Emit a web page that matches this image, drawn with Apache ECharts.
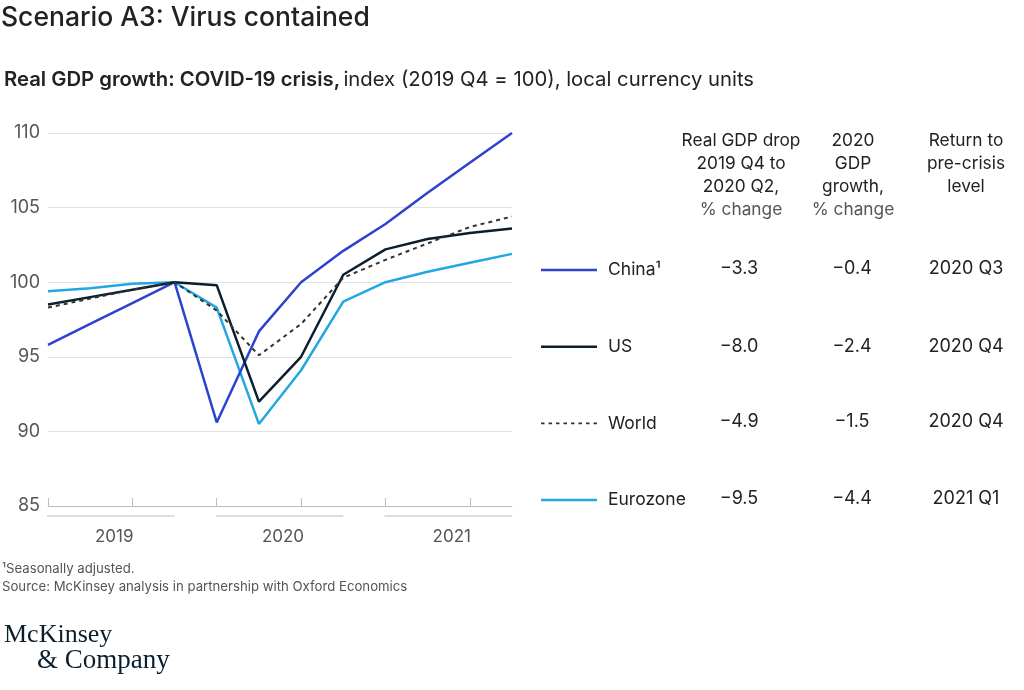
<!DOCTYPE html>
<html><head><meta charset="utf-8">
<script src="https://cdn.jsdelivr.net/npm/echarts@6/dist/echarts.min.js"></script>
<style>html,body{margin:0;padding:0;background:#fff}#c{width:1024px;height:690px}</style>
</head><body><div id="c"></div>
<script>
const quarters = ['2019 Q1','2019 Q2','2019 Q3','2019 Q4','2020 Q1','2020 Q2','2020 Q3','2020 Q4','2021 Q1','2021 Q2','2021 Q3','2021 Q4'];
const years = ['2019','2020','2021'];
const seriesNames = ['China','US','World','Eurozone'];
const legendLabels = ['China¹','US','World','Eurozone'];
const china    = [95.8, 97.2, 98.6, 100, 90.6, 96.7, 100.0, 102.1, 103.9, 106.0, 108.0, 110.0];
const us       = [98.5, 99.0, 99.5, 100, 99.8, 92.0, 95.0, 100.5, 102.2, 102.9, 103.3, 103.6];
const world    = [98.3, 98.9, 99.5, 100, 98.1, 95.1, 97.2, 100.3, 101.5, 102.6, 103.7, 104.4];
const eurozone = [99.4, 99.6, 99.9, 100, 98.3, 90.5, 94.1, 98.7, 100.0, 100.7, 101.3, 101.9];
const yTicks = [85, 90, 95, 100, 105, 110];
const header1 = ['Real GDP drop', '2019 Q4 to', '2020 Q2,', '% change'];
const header2 = ['2020', 'GDP', 'growth,', '% change'];
const header3 = ['Return to', 'pre-crisis', 'level'];
const gdpDrop = ['−3.3', '−8.0', '−4.9', '−9.5'];
const growth2020 = ['−0.4', '−2.4', '−1.5', '−4.4'];
const returnLevel = ['2020 Q3', '2020 Q4', '2020 Q4', '2021 Q1'];

const SANS = 'Inter, "Liberation Sans", sans-serif';
const DARK = '#222222';
const GREY = '#555555';
const colors = ['#2B43CF', '#0B1E2D', '#333333', '#22A7E2'];
const dataArr = [china, us, world, eurozone];

// legend icons: a solid stroke and a dashed stroke drawn as filled paths
const solidIcon = 'path://M0,0H56V2.5H0Z';
let dashPath = '';
for (let x = 0; x < 56; x += 7.5) dashPath += 'M' + x + ',0H' + (x + 3.5) + 'V1.6H' + x + 'Z';
const dashIcon = 'path://' + dashPath;

const chart = echarts.init(document.getElementById('c'), null, {renderer: 'canvas'});

function headerBlock(lines, cx, greyLast) {
  return lines.map((t, i) => ({
    type: 'text', x: cx, y: 141 + i * 23,
    style: {text: t, align: 'center', verticalAlign: 'middle',
      font: '400 17.3px ' + SANS, fill: (greyLast && i === lines.length - 1) ? GREY : DARK}
  }));
}

const rowY = [268, 346, 421, 498];
const tableTexts = [];
[[gdpDrop, 739], [growth2020, 852], [returnLevel, 966]].forEach(([arr, cx]) => {
  arr.forEach((t, i) => tableTexts.push({
    type: 'text', x: cx, y: rowY[i] + 1,
    style: {text: t, align: 'center', verticalAlign: 'middle', font: '400 18px ' + SANS, fill: DARK}
  }));
});

const staticGraphics = [
  {type: 'text', x: 1, y: 18, style: {text: 'Scenario A3: Virus contained', verticalAlign: 'middle', font: '500 26.5px ' + SANS, fill: DARK}},
  {type: 'text', x: 4, y: 80, style: {
    text: '{b|Real GDP growth: COVID-19 crisis,} {r|index (2019 Q4 = 100), local currency units}',
    verticalAlign: 'middle',
    rich: {b: {font: '600 20.3px ' + SANS, fill: DARK}, r: {font: '400 20.3px ' + SANS, fill: DARK}}
  }},
  ...headerBlock(header1, 741, true),
  ...headerBlock(header2, 853, true),
  ...headerBlock(header3, 966, false),
  ...tableTexts,
  {type: 'text', x: 2, y: 569, style: {text: '¹Seasonally adjusted.', verticalAlign: 'middle', font: '400 13.2px ' + SANS, fill: GREY}},
  {type: 'text', x: 2, y: 587, style: {text: 'Source: McKinsey analysis in partnership with Oxford Economics', verticalAlign: 'middle', font: '400 13.2px ' + SANS, fill: GREY}},
  {type: 'text', x: 4, y: 635, style: {text: 'McKinsey', verticalAlign: 'middle', font: '400 26px "Liberation Serif", serif', fill: '#0B1E2D'}},
  {type: 'text', x: 37, y: 661, style: {text: '& Company', verticalAlign: 'middle', font: '400 27px "Liberation Serif", serif', fill: '#0B1E2D'}}
];

const option = {
  animation: false,
  backgroundColor: '#fff',
  grid: {left: 48, top: 133, width: 464, height: 373, containLabel: false},
  xAxis: {
    type: 'category', data: quarters, boundaryGap: false,
    axisLine: {show: true, lineStyle: {color: '#BBBBBB', width: 1}},
    axisTick: {show: true, inside: true, length: 8, lineStyle: {color: '#BBBBBB'}},
    axisLabel: {show: false}, splitLine: {show: false}
  },
  yAxis: {
    type: 'value', min: 85, max: 110, interval: 5,
    axisLine: {show: false}, axisTick: {show: false},
    axisLabel: {color: GREY, fontSize: 18, fontFamily: SANS, margin: 8},
    splitLine: {lineStyle: {color: '#E2E2E2', width: 1}}
  },
  legend: {
    orient: 'vertical', left: 541, top: 260, padding: 0, itemWidth: 56, itemHeight: 14, itemGap: 56.7,
    data: seriesNames.map((n, i) => ({name: n, icon: i === 2 ? dashIcon : solidIcon})),
    formatter: n => legendLabels[seriesNames.indexOf(n)],
    textStyle: {fontSize: 17.5, fontFamily: SANS, color: DARK, lineHeight: 20, padding: [0, 0, 0, 6]},
    selectedMode: false
  },
  series: seriesNames.map((n, i) => ({
    name: n, type: 'line', data: dataArr[i], symbol: 'none', showSymbol: false,
    color: colors[i],
    lineStyle: {color: colors[i], width: i === 2 ? 2 : 2.5, type: i === 2 ? [4, 4] : 'solid'},
    z: [3, 4, 5, 2][i]
  })),
  graphic: staticGraphics
};
chart.setOption(option);

// Year group separators and labels, positioned through the category axis
const yearGraphics = years.map((y, k) => {
  const x0 = chart.convertToPixel({xAxisIndex: 0}, quarters[k * 4]);
  const x1 = chart.convertToPixel({xAxisIndex: 0}, quarters[k * 4 + 3]);
  return [
    {type: 'line', shape: {x1: x0 - 1, y1: 516, x2: x1, y2: 516}, style: {stroke: '#BBBBBB', lineWidth: 1}},
    {type: 'text', x: (x0 + x1) / 2 + 3, y: 537, style: {text: y, align: 'center', verticalAlign: 'middle', font: '400 17px ' + SANS, fill: GREY}}
  ];
}).flat();
chart.setOption({graphic: staticGraphics.concat(yearGraphics)});
</script>
</body></html>
